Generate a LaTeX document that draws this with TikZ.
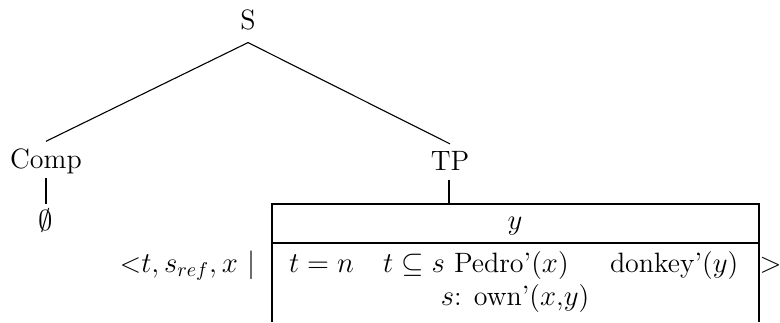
\documentclass[tikz,border=0pt]{standalone}
\begin{document}
\begin{tikzpicture}[x=0.5pt,y=-0.5pt,
  every node/.style={font=\fontsize{14}{17}\selectfont, inner sep=0pt, outer sep=0pt},
  lbl/.style={anchor=base},
  lblw/.style={anchor=base west},
  lble/.style={anchor=base east},
  edge/.style={line width=0.55pt}]
\useasboundingbox (0,0) rectangle (780,322);
% tree nodes
\node[lbl] (S) at (248,29) {S};
\node[lbl] (Comp) at (46,168) {Comp};
\node[lbl] (TP) at (450,170) {TP};
\node[lbl] (E) at (46,230) {$\emptyset$};
\coordinate (boxtop) at (449,204);
% box
\draw[edge] (272,322) -- (272,204) -- (759,204) -- (759,322);
\draw[edge] (272,243) -- (759,243);
% box contents
\node[lbl] (yv) at (515,229) {$y$};
\node[lblw] (c1) at (289,272) {$t=n$};
\node[lblw] (c2) at (383,272) {$t\subseteq s$ Pedro'($x$)};
\node[lblw] (c3) at (610,272) {donkey'($y$)};
\node[lbl] (c4) at (515,305) {$s$: own'($x$,$y$)};
\node[lble] (L) at (255,272) {<$t, s_{ref}, x$ $|$};
\node[lblw] (R) at (759.5,272) {$>$};
% connectors
\draw[edge] ([yshift=-6.5pt]S.south) -- ([yshift=3.5pt]Comp.north);
\draw[edge] ([yshift=-6.5pt]S.south) -- ([yshift=3.5pt]TP.north);
\draw[edge] ([yshift=-2.3pt]Comp.south) -- ([yshift=2pt]E.north);
\draw[edge] ([yshift=-5pt,xshift=-0.5pt]TP.south) -- (boxtop);
\end{tikzpicture}
\end{document}
